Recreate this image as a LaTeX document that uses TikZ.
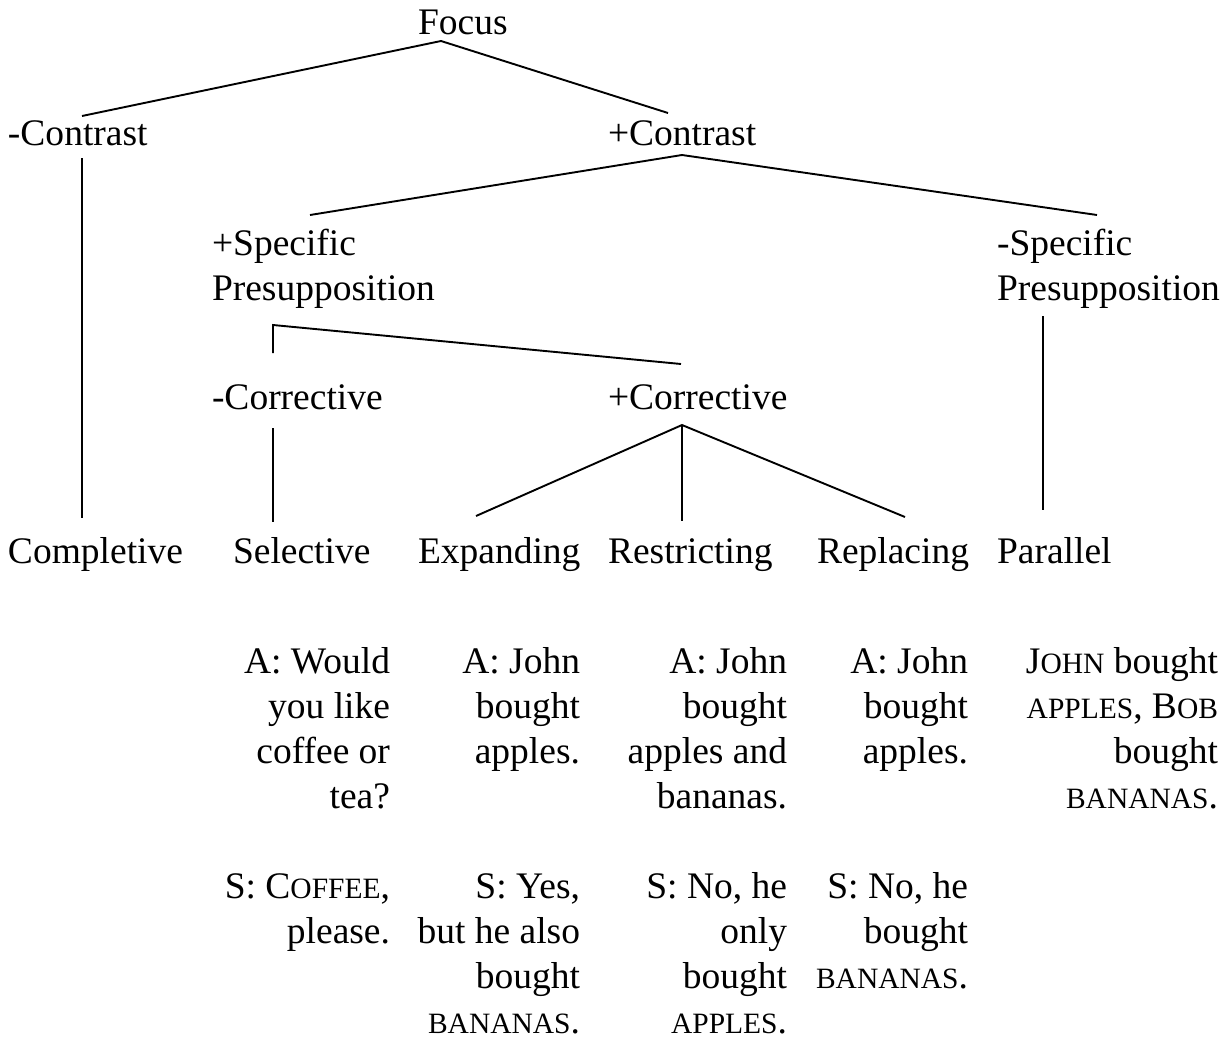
\documentclass[tikz,border=0pt]{standalone}
\usepackage{fontspec}
\setmainfont{Liberation Serif}
\newcommand\smc[1]{{\fontsize{29.5}{29.5}\selectfont #1}}
\begin{document}
\begin{tikzpicture}[x=1pt,y=-1pt,
  lbl/.style={inner sep=0pt,outer sep=0pt,font=\fontsize{37.5}{45}\selectfont},
  lw/.style={lbl,anchor=base west},
  le/.style={lbl,anchor=base east},
  br/.style={line width=1.9pt}]
\useasboundingbox (0,0) rectangle (1228,1041);
% tree labels
\node[lw] (focus) at (418,35) {Focus};
\node[lw] (mcon) at (8,145) {-Contrast};
\node[lw] (pcon) at (608,145) {+Contrast};
\node[lw] (pspec1) at (212,255) {+Specific};
\node[lw] (pspec2) at (212,300) {Presupposition};
\node[lw] (mspec1) at (997,255) {-Specific};
\node[lw] (mspec2) at (997,300) {Presupposition};
\node[lw] (mcor) at (212,409) {-Corrective};
\node[lw] (pcor) at (608,409) {+Corrective};
\node[lw] (compl) at (8,563) {Completive};
\node[lw] (sel) at (233,563) {Selective};
\node[lw] (exp) at (418,563) {Expanding};
\node[lw] (res) at (608,563) {Restricting};
\node[lw] (rep) at (817,563) {Replacing};
\node[lw] (par) at (997,563) {Parallel};
% connector end points
\coordinate (fA) at (441,41);
\coordinate (fL) at (82,116);
\coordinate (fR) at (668,113);
\coordinate (cA) at (682,155);
\coordinate (cL) at (310,215);
\coordinate (cR) at (1097,215);
\coordinate (mcT) at (82,158);
\coordinate (mcB) at (82,518);
\coordinate (psA) at (273,325);
\coordinate (psL) at (273,353);
\coordinate (psR) at (681,364);
\coordinate (mcoT) at (273,428);
\coordinate (mcoB) at (273,522);
\coordinate (pcA) at (682,425);
\coordinate (pcL) at (476,516);
\coordinate (pcM) at (682,521);
\coordinate (pcR) at (905,517);
\coordinate (msT) at (1043,316);
\coordinate (msB) at (1043,510);
\draw[br] (fL) -- (fA) -- (fR);
\draw[br] (cL) -- (cA) -- (cR);
\draw[br] (mcT) -- (mcB);
\draw[br] (psL) -- (psA) -- (psR);
\draw[br] (mcoT) -- (mcoB);
\draw[br] (pcL) -- (pcA) -- (pcR);
\draw[br] (pcA) -- (pcM);
\draw[br] (msT) -- (msB);
% examples
\node[le] (e1a) at (390,673) {A: Would};
\node[le] (e1b) at (390,718) {you like};
\node[le] (e1c) at (390,763) {coffee or};
\node[le] (e1d) at (390,808) {tea?};
\node[le] (e1e) at (390,898) {S: C\smc{OFFEE},};
\node[le] (e1f) at (390,943) {please.};
\node[le] (e2a) at (580,673) {A: John};
\node[le] (e2b) at (580,718) {bought};
\node[le] (e2c) at (580,763) {apples.};
\node[le] (e2e) at (580,898) {S: Yes,};
\node[le] (e2f) at (580,943) {but he also};
\node[le] (e2g) at (580,988) {bought};
\node[le] (e2h) at (580,1033) {\smc{BANANAS}.};
\node[le] (e3a) at (787,673) {A: John};
\node[le] (e3b) at (787,718) {bought};
\node[le] (e3c) at (787,763) {apples and};
\node[le] (e3d) at (787,808) {bananas.};
\node[le] (e3e) at (787,898) {S: No, he};
\node[le] (e3f) at (787,943) {only};
\node[le] (e3g) at (787,988) {bought};
\node[le] (e3h) at (787,1033) {\smc{APPLES}.};
\node[le] (e4a) at (968,673) {A: John};
\node[le] (e4b) at (968,718) {bought};
\node[le] (e4c) at (968,763) {apples.};
\node[le] (e4e) at (968,898) {S: No, he};
\node[le] (e4f) at (968,943) {bought};
\node[le] (e4g) at (968,988) {\smc{BANANAS}.};
\node[le] (e5a) at (1218,673) {J\smc{OHN} bought};
\node[le] (e5b) at (1218,718) {\smc{APPLES}, B\smc{OB}};
\node[le] (e5c) at (1218,763) {bought};
\node[le] (e5d) at (1218,808) {\smc{BANANAS}.};
\end{tikzpicture}
\end{document}
